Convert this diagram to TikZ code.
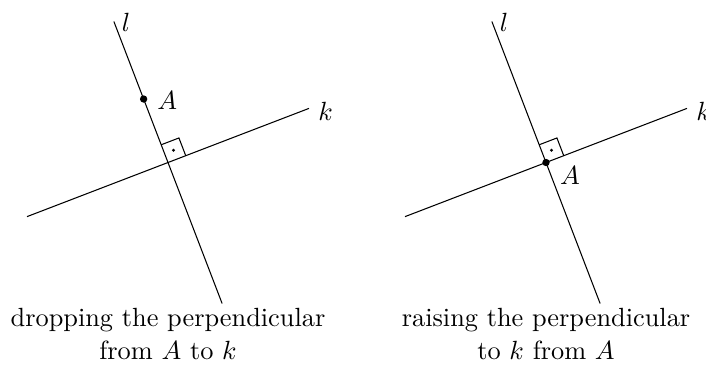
\documentclass[tikz,border=0pt]{standalone}
\usetikzlibrary{calc}
\begin{document}
\begin{tikzpicture}[x=0.38pt,y=0.38pt,
  geo/.style={line width=0.4pt},
  ptdot/.style={circle,fill=black,inner sep=0pt,minimum size=2.8pt},
  angdot/.style={circle,fill=black,inner sep=0pt,minimum size=1.25pt},
  lbl/.style={inner sep=0pt,anchor=center},
  capt/.style={anchor=base,inner sep=0pt,font=\fontsize{10pt}{12pt}\selectfont}]
\useasboundingbox (0,0) rectangle (706,371);

% ---------- left figure: dropping the perpendicular ----------
\coordinate (P1) at (168,208.5);
\coordinate (kL1) at ($(P1)+(201:151)$);
\coordinate (kR1) at ($(P1)+(21:151)$);
\coordinate (lT1) at ($(P1)+(111:151)$);
\coordinate (lB1) at ($(P1)+(291:151)$);
\draw[geo] (kL1) -- (kR1);
\draw[geo] (lB1) -- (lT1);
\draw[geo] ($(P1)+(21:19)$) -- ($(P1)+(21:19)+(111:19)$) -- ($(P1)+(111:19)$);
\node[angdot] (d1) at ($(P1)+(21:9.5)+(111:9.5)$) {};
\node[ptdot] (A1) at ($(P1)+(111:68)$) {};
\node[lbl] (Alab1) at ($(A1)+(23.5,-1)$) {$A$};
\node[lbl] (llab1) at ($(lT1)+(12.2,-1)$) {$l$};
\node[lbl] (klab1) at ($(kR1)+(16.7,-3.4)$) {$k$};
\node[capt] (c1a) at (168,45) {dropping the perpendicular};
\node[capt] (c1b) at (168,11.5) {from $A$ to $k$};

% ---------- right figure: raising the perpendicular ----------
\coordinate (P2) at (546,208.5);
\coordinate (kL2) at ($(P2)+(201:151)$);
\coordinate (kR2) at ($(P2)+(21:151)$);
\coordinate (lT2) at ($(P2)+(111:151)$);
\coordinate (lB2) at ($(P2)+(291:151)$);
\draw[geo] (kL2) -- (kR2);
\draw[geo] (lB2) -- (lT2);
\draw[geo] ($(P2)+(21:19)$) -- ($(P2)+(21:19)+(111:19)$) -- ($(P2)+(111:19)$);
\node[angdot] (d2) at ($(P2)+(21:9.5)+(111:9.5)$) {};
\node[ptdot] (A2) at (P2) {};
\node[lbl] (Alab2) at ($(A2)+(24,-12.5)$) {$A$};
\node[lbl] (llab2) at ($(lT2)+(12.2,-1)$) {$l$};
\node[lbl] (klab2) at ($(kR2)+(16.7,-3.4)$) {$k$};
\node[capt] (c2a) at (546,45) {raising the perpendicular};
\node[capt] (c2b) at (546,11.5) {to $k$ from $A$};
\end{tikzpicture}
\end{document}
